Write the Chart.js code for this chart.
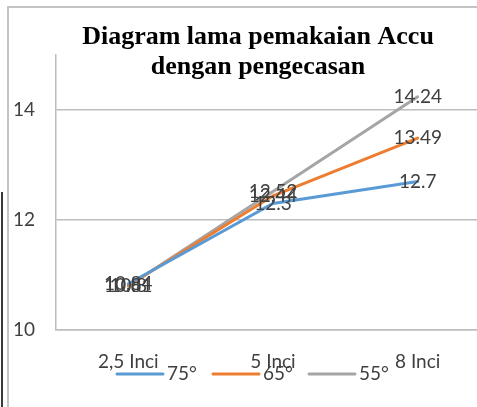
<!DOCTYPE html>
<html><head><meta charset="utf-8">
<script src="https://cdn.jsdelivr.net/npm/chart.js@4.4.0/dist/chart.umd.min.js"></script>
<style>
html,body{margin:0;padding:0;background:#fff;overflow:hidden;width:477px;height:407px;}
#frame{position:absolute;left:7px;top:6px;width:600px;height:500px;border-left:2px solid #c4c4c4;border-top:2px solid #c4c4c4;}
#edge{position:absolute;left:1px;top:192px;width:2px;height:220px;background:#3a3a3a;}
#c{position:absolute;left:9px;top:8px;}
</style></head><body>
<div id="frame"></div><div id="edge"></div>
<canvas id="c" width="499" height="399"></canvas>
<script>
const categories = ['2,5 Inci', '5 Inci', '8 Inci'];
const seriesNames = ['75°', '65°', '55°'];
const values75 = [10.84, 12.3, 12.7];
const values65 = [10.81, 12.44, 13.49];
const values55 = [10.8, 12.52, 14.24];
const yTicks = [10, 12, 14];
const titleLines = ['Diagram lama pemakaian Accu', 'dengan pengecasan'];

const TEXT = '#404040';
const GRID = '#bdbdbd';

const valueLabels = {
  id: 'valueLabels',
  afterDatasetsDraw(chart) {
    const ctx = chart.ctx;
    ctx.save();
    ctx.font = '19px Lato';
    ctx.fillStyle = TEXT;
    ctx.textAlign = 'center';
    ctx.textBaseline = 'middle';
    chart.data.datasets.forEach((ds, i) => {
      chart.getDatasetMeta(i).data.forEach((pt, j) => {
        ctx.fillText(String(ds.data[j]), pt.x, pt.y);
      });
    });
    ctx.restore();
  }
};

const lineLegend = {
  id: 'lineLegend',
  afterDraw(chart) {
    const ctx = chart.ctx;
    ctx.save();
    ctx.font = '19px Lato';
    ctx.textBaseline = 'middle';
    ctx.textAlign = 'left';
    chart.data.datasets.forEach((ds, i) => {
      const x = 108 + i * 96, y = 366;
      ctx.strokeStyle = ds.borderColor;
      ctx.lineWidth = 3;
      ctx.lineCap = 'round';
      ctx.beginPath();
      ctx.moveTo(x, y);
      ctx.lineTo(x + 46, y);
      ctx.stroke();
      ctx.fillStyle = TEXT;
      ctx.fillText(ds.label, x + 50, y);
    });
    ctx.restore();
  }
};

const titleShift = {
  id: 'titleShift',
  afterLayout(chart) {
    if (chart.titleBlock) chart.titleBlock.left = 17;
  }
};

new Chart(document.getElementById('c'), {
  type: 'line',
  data: {
    labels: categories,
    datasets: [
      { label: seriesNames[0], data: values75, borderColor: '#5b9bd5', backgroundColor: '#5b9bd5' },
      { label: seriesNames[1], data: values65, borderColor: '#ed7d31', backgroundColor: '#ed7d31' },
      { label: seriesNames[2], data: values55, borderColor: '#a5a5a5', backgroundColor: '#a5a5a5' }
    ]
  },
  options: {
    responsive: false,
    animation: false,
    devicePixelRatio: 1,
    layout: { padding: { left: 0, right: 18, top: 0, bottom: 0 } },
    elements: {
      line: { borderWidth: 3, tension: 0, borderCapStyle: 'round' },
      point: { radius: 0, hoverRadius: 0 }
    },
    plugins: {
      legend: { display: false },
      tooltip: { enabled: false },
      title: {
        display: true,
        text: titleLines,
        color: '#000',
        font: { family: 'Liberation Serif', size: 26, weight: 'bold', lineHeight: 1.154 },
        padding: { top: 14, bottom: -27 }
      }
    },
    scales: {
      x: {
        offset: true,
        grid: { display: false, drawTicks: false },
        border: { display: true, color: GRID, width: 1.5 },
        ticks: { color: TEXT, font: { family: 'Lato', size: 19 }, padding: 20, maxRotation: 0, autoSkip: false },
        afterFit(s) { s.height = 77; }
      },
      y: {
        min: 10,
        max: 15,
        ticks: { color: TEXT, font: { family: 'Lato', size: 19 }, padding: 21, includeBounds: false },
        afterBuildTicks(s) { s.ticks = yTicks.map(v => ({ value: v })); },
        grid: { color: GRID, lineWidth: 1.5, drawTicks: false },
        border: { display: true, color: GRID, width: 1.5 },
        afterFit(s) { s.width = 47; }
      }
    }
  },
  plugins: [valueLabels, lineLegend, titleShift]
});
</script>
</body></html>
